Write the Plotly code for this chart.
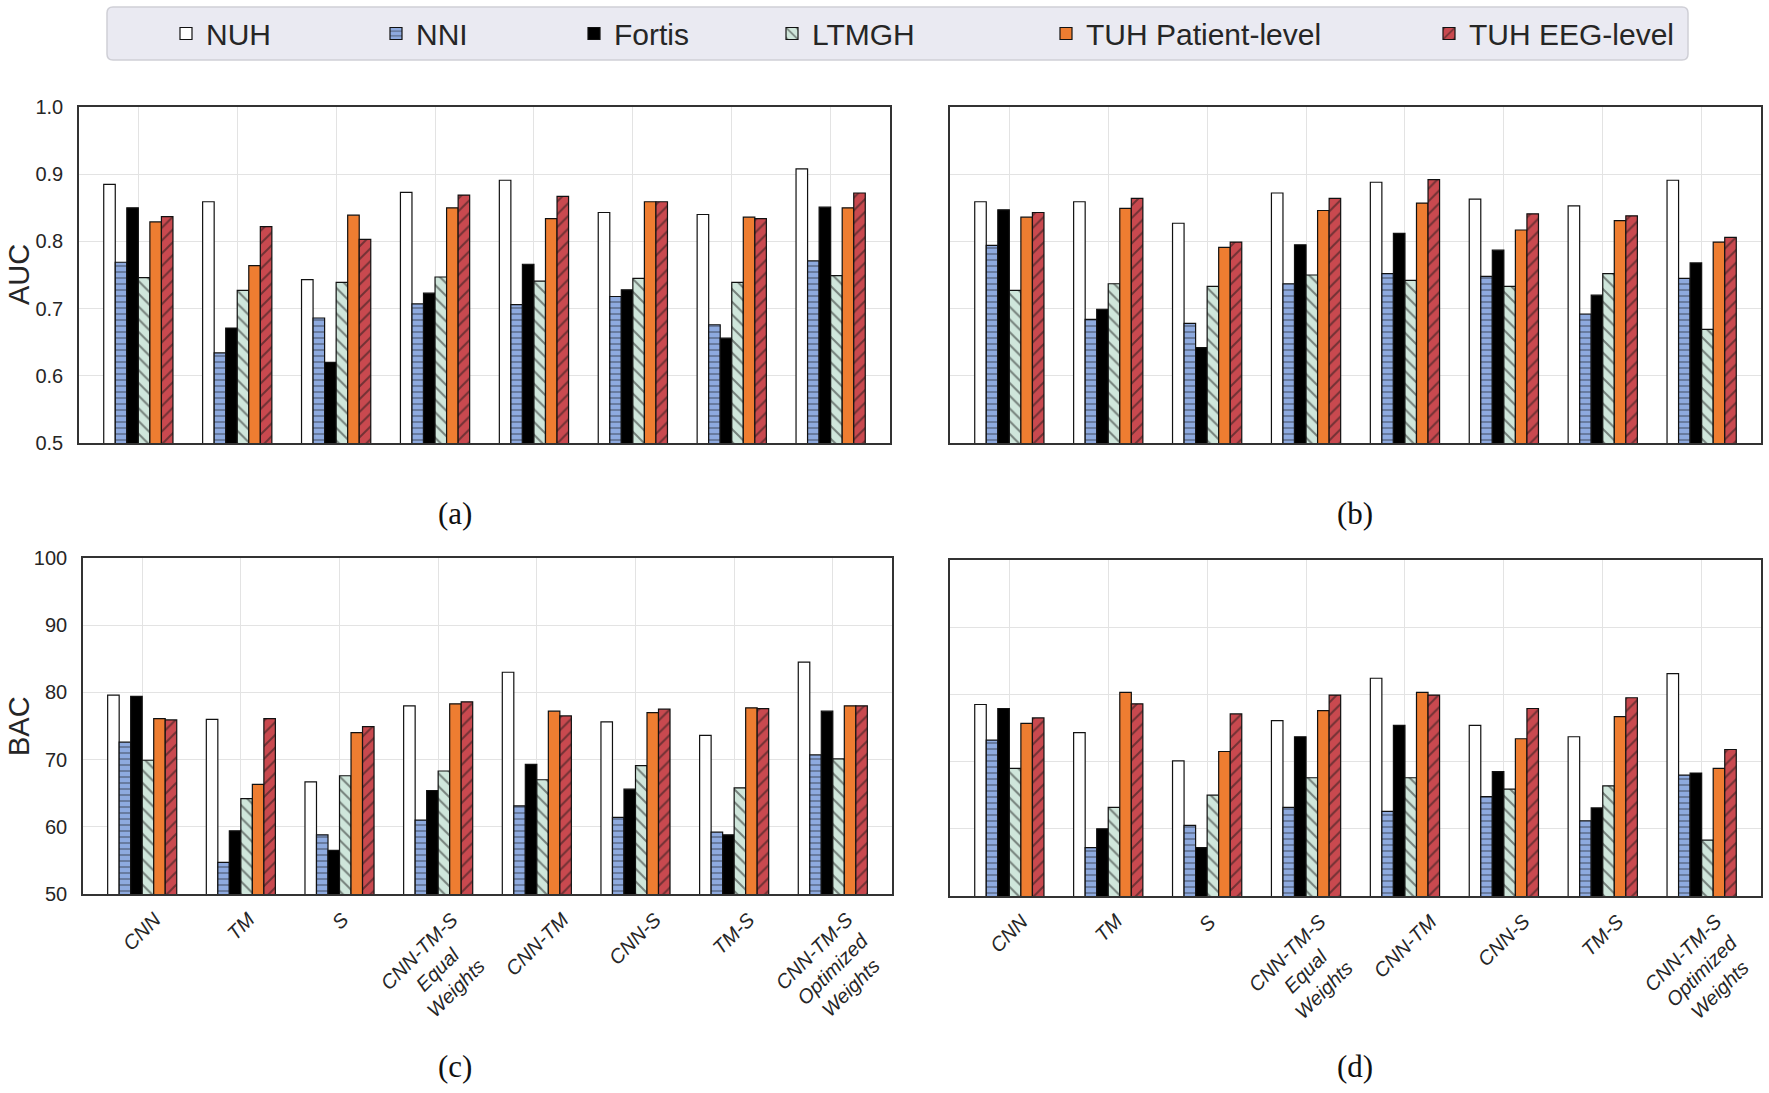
import plotly.graph_objects as go

W, H = 1769, 1093

categories = ["CNN", "TM", "S", "CNN-TM-S\nEqual\nWeights", "CNN-TM", "CNN-S", "TM-S",
              "CNN-TM-S\nOptimized\nWeights"]
series_names = ["NUH", "NNI", "Fortis", "LTMGH", "TUH Patient-level", "TUH EEG-level"]

# (a) AUC
auc_a_nuh = [0.885, 0.859, 0.743, 0.873, 0.891, 0.843, 0.840, 0.908]
auc_a_nni = [0.769, 0.634, 0.686, 0.707, 0.706, 0.718, 0.676, 0.771]
auc_a_fortis = [0.850, 0.671, 0.620, 0.723, 0.766, 0.728, 0.656, 0.851]
auc_a_ltmgh = [0.746, 0.727, 0.739, 0.747, 0.741, 0.745, 0.739, 0.749]
auc_a_tuhp = [0.829, 0.764, 0.839, 0.850, 0.834, 0.859, 0.836, 0.850]
auc_a_tuhe = [0.837, 0.822, 0.803, 0.869, 0.867, 0.859, 0.834, 0.872]

# (b) AUC
auc_b_nuh = [0.859, 0.859, 0.827, 0.872, 0.888, 0.863, 0.853, 0.891]
auc_b_nni = [0.794, 0.684, 0.678, 0.737, 0.752, 0.748, 0.692, 0.745]
auc_b_fortis = [0.847, 0.699, 0.642, 0.795, 0.812, 0.787, 0.720, 0.768]
auc_b_ltmgh = [0.727, 0.737, 0.733, 0.750, 0.742, 0.733, 0.752, 0.669]
auc_b_tuhp = [0.836, 0.849, 0.791, 0.846, 0.857, 0.817, 0.831, 0.799]
auc_b_tuhe = [0.843, 0.864, 0.799, 0.864, 0.892, 0.841, 0.838, 0.806]

# (c) BAC
bac_c_nuh = [79.6, 76.0, 66.7, 78.0, 83.0, 75.6, 73.6, 84.5]
bac_c_nni = [72.6, 54.7, 58.8, 61.0, 63.1, 61.4, 59.2, 70.7]
bac_c_fortis = [79.4, 59.4, 56.5, 65.4, 69.3, 65.6, 58.8, 77.2]
bac_c_ltmgh = [69.9, 64.2, 67.6, 68.3, 67.0, 69.1, 65.8, 70.1]
bac_c_tuhp = [76.1, 66.3, 74.0, 78.3, 77.2, 77.0, 77.7, 78.0]
bac_c_tuhe = [75.9, 76.1, 74.9, 78.6, 76.5, 77.5, 77.6, 78.0]

# (d) BAC
bac_d_nuh = [78.5, 74.3, 70.1, 76.1, 82.4, 75.4, 73.7, 83.1]
bac_d_nni = [73.2, 57.2, 60.5, 63.2, 62.6, 64.8, 61.2, 68.0]
bac_d_fortis = [77.9, 60.0, 57.2, 73.7, 75.4, 68.5, 63.1, 68.3]
bac_d_ltmgh = [69.0, 63.2, 65.0, 67.6, 67.6, 65.9, 66.4, 58.3]
bac_d_tuhp = [75.7, 80.3, 71.5, 77.6, 80.3, 73.4, 76.7, 69.0]
bac_d_tuhe = [76.5, 78.6, 77.1, 79.9, 79.9, 77.9, 79.5, 71.8]

auc_ticks = [0.5, 0.6, 0.7, 0.8, 0.9, 1.0]
bac_ticks = [50, 60, 70, 80, 90, 100]

panels = [
    ("x", "y", [auc_a_nuh, auc_a_nni, auc_a_fortis, auc_a_ltmgh, auc_a_tuhp, auc_a_tuhe]),
    ("x2", "y2", [auc_b_nuh, auc_b_nni, auc_b_fortis, auc_b_ltmgh, auc_b_tuhp, auc_b_tuhe]),
    ("x3", "y3", [bac_c_nuh, bac_c_nni, bac_c_fortis, bac_c_ltmgh, bac_c_tuhp, bac_c_tuhe]),
    ("x4", "y4", [bac_d_nuh, bac_d_nni, bac_d_fortis, bac_d_ltmgh, bac_d_tuhp, bac_d_tuhe]),
]

fills = ["#ffffff", "#8eaadf", "#000000", "#cfe6db", "#ee7d31", "#c9494f"]
shapes_pat = ["", "-", "", "\\", "", "/"]
pat_sizes = [8, 6, 8, 9, 8, 9]
legend_ids = ["legend", "legend2", "legend3", "legend4", "legend5", "legend6"]

cat_keys = [c.replace("\n", " ") for c in categories]

fig = go.Figure()
for pi, (xa, ya, rows) in enumerate(panels):
    for si, vals in enumerate(rows):
        fig.add_trace(go.Bar(
            x=cat_keys, y=vals, xaxis=xa, yaxis=ya,
            name=series_names[si],
            legend=legend_ids[si],
            showlegend=(pi == 0),
            marker=dict(
                color=fills[si],
                line=dict(color="#111111", width=1.2),
                pattern=dict(shape=shapes_pat[si], fgcolor="#1a1a1a",
                             size=pat_sizes[si], solidity=0.22),
            ),
        ))


def px_x(p):
    return p / W


def px_y(p):
    return 1 - p / H


axis_common = dict(
    showline=True, mirror=True, linecolor="#333333", linewidth=1.6,
    showgrid=True, gridcolor="#e3e3e3", gridwidth=1.4, zeroline=False,
    ticks="", tickfont=dict(family="Liberation Sans, Arial", size=20, color="#262626"),
)

xa_common = dict(axis_common, type="category", categoryorder="array",
                 categoryarray=cat_keys, range=[-0.6, 7.6], showticklabels=False)

fig.update_layout(
    width=W, height=H,
    margin=dict(l=0, r=0, t=0, b=0, autoexpand=False),
    paper_bgcolor="white", plot_bgcolor="white",
    barmode="group", bargap=0.3, bargroupgap=0,
    font=dict(family="Liberation Sans, Arial", color="#262626"),
    xaxis=dict(xa_common, domain=[px_x(79), px_x(890)], anchor="y"),
    xaxis2=dict(xa_common, domain=[px_x(950), px_x(1761)], anchor="y2"),
    xaxis3=dict(xa_common, domain=[px_x(83), px_x(892)], anchor="y3"),
    xaxis4=dict(xa_common, domain=[px_x(950), px_x(1761)], anchor="y4"),
    yaxis=dict(axis_common, domain=[px_y(443), px_y(107)], range=[0.5, 1.0],
               tickvals=auc_ticks, tickformat=".1f", anchor="x", ticklabelstandoff=10),
    yaxis2=dict(axis_common, domain=[px_y(443), px_y(107)], range=[0.5, 1.0],
                tickvals=auc_ticks, showticklabels=False, anchor="x2"),
    yaxis3=dict(axis_common, domain=[px_y(894), px_y(558)], range=[50, 100],
                tickvals=bac_ticks, anchor="x3", ticklabelstandoff=10),
    yaxis4=dict(axis_common, domain=[px_y(896), px_y(560)], range=[50, 100],
                tickvals=bac_ticks, showticklabels=False, anchor="x4"),
)

# legends: one per series, laid out along the top
legend_text_x = [206, 416, 614, 812, 1086, 1469]
for lid, tx in zip(legend_ids, legend_text_x):
    fig.update_layout({lid: dict(
        x=px_x(tx - 40), y=px_y(33.5), xanchor="left", yanchor="middle",
        orientation="h", bgcolor="rgba(0,0,0,0)", borderwidth=0,
        font=dict(family="Liberation Sans, Arial", size=30, color="#262626"),
        itemwidth=30,
    )})

# legend frame (rounded)
x0, x1, y0, y1, r = 107, 1688, 7, 60, 6
path = (f"M {px_x(x0 + r)},{px_y(y0)} L {px_x(x1 - r)},{px_y(y0)} "
        f"Q {px_x(x1)},{px_y(y0)} {px_x(x1)},{px_y(y0 + r)} "
        f"L {px_x(x1)},{px_y(y1 - r)} Q {px_x(x1)},{px_y(y1)} {px_x(x1 - r)},{px_y(y1)} "
        f"L {px_x(x0 + r)},{px_y(y1)} Q {px_x(x0)},{px_y(y1)} {px_x(x0)},{px_y(y1 - r)} "
        f"L {px_x(x0)},{px_y(y0 + r)} Q {px_x(x0)},{px_y(y0)} {px_x(x0 + r)},{px_y(y0)} Z")
fig.add_shape(type="path", path=path, xref="paper", yref="paper",
              fillcolor="#eaeaf2", line=dict(color="#cfcfd6", width=1.5), layer="below")

annotations = []
# y axis titles
annotations.append(dict(text="AUC", x=px_x(19), y=px_y(275), xref="paper", yref="paper",
                        textangle=-90, showarrow=False, xanchor="center", yanchor="middle",
                        font=dict(family="Liberation Sans, Arial", size=29, color="#262626")))
annotations.append(dict(text="BAC", x=px_x(19), y=px_y(726), xref="paper", yref="paper",
                        textangle=-90, showarrow=False, xanchor="center", yanchor="middle",
                        font=dict(family="Liberation Sans, Arial", size=29, color="#262626")))

# rotated category labels under bottom panels
for xa, ybot in (("x3", 894), ("x4", 896)):
    for i, lab in enumerate(categories):
        annotations.append(dict(
            text=lab.replace("\n", "<br>"), x=i, xref=xa, y=px_y(ybot + 11), yref="paper",
            textangle=-45, showarrow=False, xanchor="center", yanchor="top", align="center",
            font=dict(family="Liberation Sans, Arial", size=20, color="#262626", style="italic"),
        ))

# subplot captions
for lab, cx, cy in (("(a)", 455, 513), ("(b)", 1355, 513), ("(c)", 455, 1066), ("(d)", 1355, 1066)):
    annotations.append(dict(text=lab, x=px_x(cx), y=px_y(cy), xref="paper", yref="paper",
                            showarrow=False, xanchor="center", yanchor="middle",
                            font=dict(family="Liberation Serif, DejaVu Serif", size=31, color="#111111")))

fig.update_layout(annotations=annotations)

fig.write_html("out.html", config={"displayModeBar": False},
               post_script="document.body.style.margin='0';document.body.style.overflow='hidden';")
